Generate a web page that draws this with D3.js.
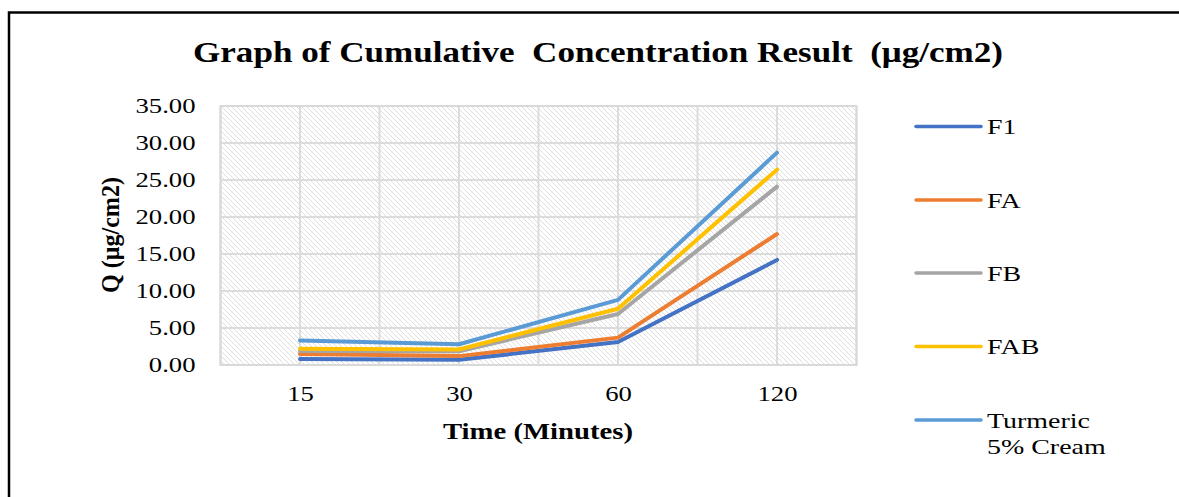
<!DOCTYPE html>
<html>
<head>
<meta charset="utf-8">
<script src="https://cdn.jsdelivr.net/npm/d3@7"></script>
<style>
  body { margin: 0; background: #fff; }
  svg text { font-family: "Liberation Serif", "Times New Roman", serif; fill: #000; }
</style>
</head>
<body>
<svg id="chart" width="1179" height="497"></svg>
<script>
const times = ["15", "30", "60", "120"];
const seriesNames = ["F1", "FA", "FB", "FAB", "Turmeric 5% Cream"];
const f1 = [0.8, 0.7, 3.1, 14.2];
const fa = [1.5, 1.2, 3.7, 17.7];
const fb = [1.9, 1.85, 6.9, 24.1];
const fab = [2.2, 2.1, 7.6, 26.4];
const turmeric = [3.3, 2.8, 8.8, 28.7];
const yTicks = [0, 5, 10, 15, 20, 25, 30, 35];
const colors = ["#4472C4", "#ED7D31", "#A5A5A5", "#FFC000", "#5B9BD5"];

const allSeries = [f1, fa, fb, fab, turmeric];

const svg = d3.select("#chart");
const plotLeft = 220.5, plotRight = 856.5, plotTop = 106, plotBottom = 365;
const K = 1.27; // the original picture is wider than its fonts

function stretch(sel, k) {
    sel.each(function() {
        const w = this.getComputedTextLength();
        d3.select(this).attr("textLength", w * k).attr("lengthAdjust", "spacingAndGlyphs");
    });
}

// outer frame
svg.append("path")
    .attr("d", `M9,${svg.attr("height")} V12.5 H${svg.attr("width")}`)
    .attr("fill", "none")
    .attr("stroke", "#000")
    .attr("stroke-width", 2.5);

// hatch pattern for plot area
const pat = svg.append("defs").append("pattern")
    .attr("id", "hatch")
    .attr("patternUnits", "userSpaceOnUse")
    .attr("width", 5).attr("height", 5);
pat.append("rect").attr("width", 5).attr("height", 5).attr("fill", "#fff");
pat.append("path")
    .attr("d", "M-1,-1 L6,6 M-1,4 L1,6 M4,-1 L6,1")
    .attr("stroke", "#dedede")
    .attr("stroke-width", 1);

const x = d3.scalePoint().domain(times).range([plotLeft, plotRight]).padding(0.5);
const y = d3.scaleLinear().domain([0, 35]).range([plotBottom, plotTop]);

svg.append("rect")
    .attr("x", plotLeft).attr("y", plotTop)
    .attr("width", plotRight - plotLeft).attr("height", plotBottom - plotTop)
    .attr("fill", "url(#hatch)");

// gridlines
const step = x.step();
const vLines = d3.range(0, times.length * 2 + 1).map(i => plotLeft + i * step / 2);
svg.append("g")
    .selectAll("line")
    .data(vLines)
    .join("line")
    .attr("x1", d => d).attr("x2", d => d)
    .attr("y1", plotTop).attr("y2", plotBottom)
    .attr("stroke", "#dcdcdc")
    .attr("stroke-width", 2);

svg.append("g")
    .selectAll("line")
    .data(yTicks)
    .join("line")
    .attr("x1", plotLeft).attr("x2", plotRight)
    .attr("y1", d => y(d)).attr("y2", d => y(d))
    .attr("stroke", "#dcdcdc")
    .attr("stroke-width", 2);

svg.append("rect")
    .attr("x", plotLeft).attr("y", plotTop)
    .attr("width", plotRight - plotLeft).attr("height", plotBottom - plotTop)
    .attr("fill", "none")
    .attr("stroke", "#d9d9d9")
    .attr("stroke-width", 2);

// axes
const yAxis = svg.append("g")
    .attr("transform", `translate(${plotLeft},0)`)
    .call(d3.axisLeft(y).tickValues(yTicks).tickFormat(d3.format(".2f")).tickSize(0).tickPadding(25));
yAxis.select(".domain").remove();
yAxis.selectAll("text")
    .style("font-family", "Liberation Serif")
    .style("font-size", "21px");
stretch(yAxis.selectAll("text"), K);

const xAxis = svg.append("g")
    .attr("transform", `translate(0,${plotBottom})`)
    .call(d3.axisBottom(x).tickSize(0).tickPadding(21));
xAxis.select(".domain").remove();
xAxis.selectAll("text")
    .style("font-family", "Liberation Serif")
    .style("font-size", "21px");
stretch(xAxis.selectAll("text"), K);

// lines
const line = d3.line()
    .x((d, i) => x(times[i]))
    .y(d => y(d));

svg.append("g")
    .selectAll("path")
    .data(allSeries)
    .join("path")
    .attr("d", line)
    .attr("fill", "none")
    .attr("stroke", (d, i) => colors[i])
    .attr("stroke-width", 4)
    .attr("stroke-linecap", "round")
    .attr("stroke-linejoin", "round");

// titles
svg.append("text")
    .attr("x", 598).attr("y", 62)
    .attr("text-anchor", "middle")
    .style("font-size", "30px")
    .style("font-weight", "bold")
    .style("white-space", "pre")
    .attr("textLength", 810)
    .attr("lengthAdjust", "spacingAndGlyphs")
    .text("Graph of Cumulative  Concentration Result  (μg/cm2)");

svg.append("text")
    .attr("x", 538).attr("y", 439)
    .attr("text-anchor", "middle")
    .style("font-size", "23px")
    .style("font-weight", "bold")
    .attr("textLength", 190)
    .attr("lengthAdjust", "spacingAndGlyphs")
    .text("Time (Minutes)");

svg.append("text")
    .attr("transform", "translate(119,235) rotate(-90)")
    .attr("text-anchor", "middle")
    .style("font-size", "25px")
    .style("font-weight", "bold")
    .attr("textLength", 116)
    .attr("lengthAdjust", "spacingAndGlyphs")
    .text("Q (μg/cm2)");

// legend
const legendY = [126.5, 200, 273, 346.5, 420];
const legend = svg.append("g")
    .selectAll("g")
    .data(seriesNames)
    .join("g")
    .attr("transform", (d, i) => `translate(916,${legendY[i]})`);

legend.append("line")
    .attr("x1", 0).attr("x2", 65)
    .attr("stroke", (d, i) => colors[i])
    .attr("stroke-width", 3.5)
    .attr("stroke-linecap", "round");

const legendText = legend.append("text")
    .attr("x", 71)
    .attr("y", 7.5)
    .style("font-size", "22px");
legendText.each(function(d) {
    const parts = d === "Turmeric 5% Cream" ? ["Turmeric", "5% Cream"] : [d];
    d3.select(this).selectAll("tspan")
        .data(parts)
        .join("tspan")
        .attr("x", 71)
        .attr("dy", (p, j) => j === 0 ? 0 : 26.7)
        .text(p => p);
});
legendText.selectAll("tspan").each(function() {
    const w = this.getComputedTextLength();
    d3.select(this).attr("textLength", w * K).attr("lengthAdjust", "spacingAndGlyphs");
});
</script>
</body>
</html>
